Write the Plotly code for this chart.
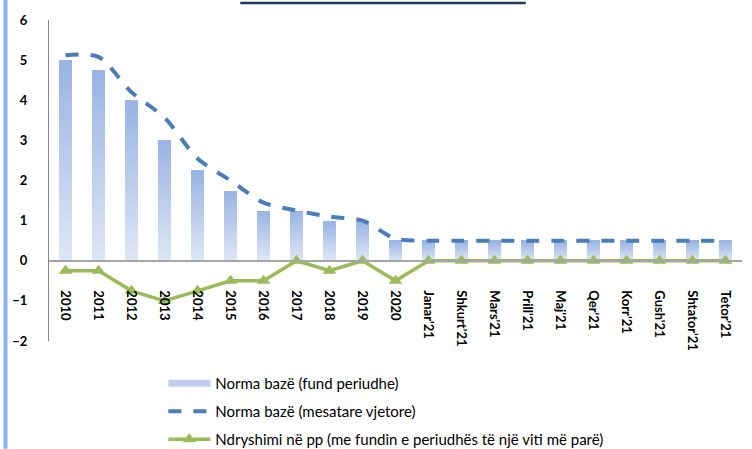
import plotly.graph_objects as go

categories = ["2010", "2011", "2012", "2013", "2014", "2015", "2016", "2017", "2018", "2019", "2020",
              "Janar'21", "Shkurt'21", "Mars'21", "Prill'21", "Maj'21", "Qer'21", "Korr'21",
              "Gush'21", "Shtator'21", "Tetor'21"]
norma_fund = [5.0, 4.75, 4.0, 3.0, 2.25, 1.75, 1.25, 1.25, 1.0, 1.0, 0.5,
              0.5, 0.5, 0.5, 0.5, 0.5, 0.5, 0.5, 0.5, 0.5, 0.5]
norma_mesatare = [5.12, 5.08, 4.2, 3.57, 2.55, 2.0, 1.45, 1.25, 1.1, 1.0, 0.55,
                  0.5, 0.5, 0.5, 0.5, 0.5, 0.5, 0.5, 0.5, 0.5, 0.5]
ndryshimi = [-0.25, -0.25, -0.75, -1.0, -0.75, -0.5, -0.5, 0.0, -0.25, 0.0, -0.5,
             0.0, 0.0, 0.0, 0.0, 0.0, 0.0, 0.0, 0.0, 0.0, 0.0]

names = ["Norma bazë (fund periudhe)", "Norma bazë (mesatare vjetore)",
         "Ndryshimi në pp (me fundin e periudhës të një viti më parë)"]

FONT = "Lato"
fig = go.Figure()

# gradient bars: stacked slices, light at bottom, darker at top
k = 20
c_bot = (223, 231, 245)
c_top = (152, 179, 227)
for i in range(k):
    t = (i + 0.5) / k
    col = tuple(round(c_bot[j] + (c_top[j] - c_bot[j]) * t) for j in range(3))
    fig.add_trace(go.Bar(
        x=categories, y=[v / k for v in norma_fund],
        marker=dict(color="rgb(%d,%d,%d)" % col, line=dict(width=0)),
        width=0.4, showlegend=False, hoverinfo="skip"))

# legend entry for bars
fig.add_trace(go.Scatter(x=[None], y=[None], mode="lines", name=names[0],
                         line=dict(color="rgb(190,207,237)", width=7),
                         legendgroup="a"))

fig.add_trace(go.Scatter(x=categories, y=norma_mesatare, mode="lines", name=names[1],
                         line=dict(color="#4a7ebb", width=4, dash="13px,12px",
                                   shape="spline", smoothing=0.8),
                         legendgroup="b"))

fig.add_trace(go.Scatter(x=categories, y=ndryshimi, mode="lines+markers", name=names[2],
                         line=dict(color="#9bbb59", width=3.5),
                         marker=dict(symbol="triangle-up", size=12, color="#9bbb59"),
                         legendgroup="c"))

fig.update_layout(
    width=752, height=449,
    margin=dict(l=49, r=10, t=20, b=108, autoexpand=False),
    paper_bgcolor="white", plot_bgcolor="white",
    barmode="stack", bargap=0.6,
    font=dict(family=FONT, color="black"),
    showlegend=True,
    legend=dict(x=0.165, y=-0.0807, xanchor="left", yanchor="top",
                font=dict(family=FONT, size=15, color="black"),
                traceorder="grouped", tracegroupgap=5.5, itemwidth=42,
                bgcolor="rgba(0,0,0,0)"),
    xaxis=dict(type="category", range=[-0.5, 20.5], anchor="free", position=0.25,
               showline=True, linecolor="#a6a6a6", linewidth=2, automargin=False,
               showgrid=False, zeroline=False, ticks="", tickangle=90,
               tickfont=dict(family=FONT, size=13, color="black", weight="bold"),
               ticklabelstandoff=26),
    yaxis=dict(range=[-2, 6], dtick=1, showline=True, linecolor="#868686", linewidth=1,
               showgrid=False, zeroline=False, ticks="", automargin=False,
               tickfont=dict(family=FONT, size=13, color="black", weight="bold"),
               ticklabelstandoff=18),
    shapes=[
        dict(type="line", xref="paper", yref="paper", x0=-0.0628, x1=-0.0628, y0=-0.336, y1=1.0623,
             line=dict(color="#8ab4f0", width=4)),
        dict(type="line", xref="paper", yref="paper", x0=0.276, x1=0.688, y0=1.0530, y1=1.0530,
             line=dict(color="#1f3a5a", width=2.5)),
    ],
)

fig.write_html("out.html", config={"displayModeBar": False},
               post_script="document.body.style.margin='0px';document.body.style.overflow='hidden';")
